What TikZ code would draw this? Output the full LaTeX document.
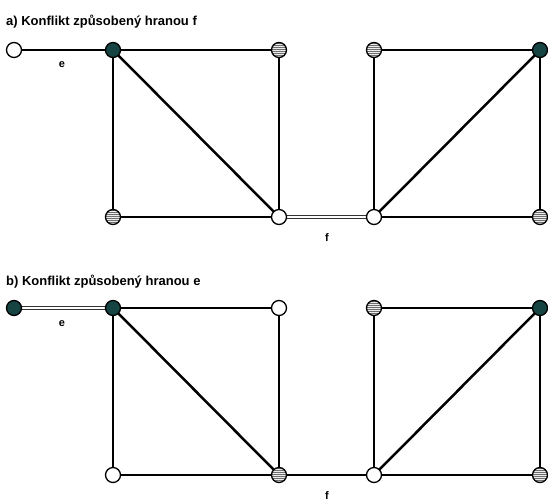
\documentclass[tikz,border=0pt]{standalone}
\usepackage{fontspec}
\setmainfont{Liberation Sans}
\definecolor{darkteal}{RGB}{22,68,66}
\definecolor{stripegray}{RGB}{110,110,110}
\tikzset{
  vtx/.style={circle, draw=black, line width=1.3pt, minimum size=15pt, inner sep=0pt},
  wnode/.style={vtx, fill=white},
  dnode/.style={vtx, fill=darkteal},
  snode/.style={vtx, fill=stripegray, path picture={
      \foreach \i in {-3,...,3}{
        \draw[white!85!gray, line width=0.8pt]
          ([yshift=\i*2pt]path picture bounding box.west) -- ([yshift=\i*2pt]path picture bounding box.east);}}},
  edge/.style={line width=2.5pt, black},
  dedge/.style={draw=black!80, line width=0.9pt, double=white, double distance=1.6pt},
  ttl/.style={anchor=west, font=\fontsize{13}{15}\selectfont\bfseries, inner sep=0pt},
  lbl/.style={font=\fontsize{11}{13}\selectfont\bfseries, inner sep=0pt}
}
\begin{document}
\begin{tikzpicture}[x=1pt,y=-1pt]
\useasboundingbox (0,0) rectangle (548,501);
% ---- (a)
\node[ttl] (ta) at (6,22) {a) Konflikt způsobený hranou f};
\coordinate (a1) at (14,50);
\coordinate (a2) at (113,50);
\coordinate (a3) at (279,50);
\coordinate (a4) at (113,217);
\coordinate (a5) at (279,217);
\coordinate (a6) at (374,217);
\coordinate (a7) at (374,50);
\coordinate (a8) at (540,50);
\coordinate (a9) at (540,217);
\draw[edge] (a1) -- (a2);
\draw[edge] (a2) -- (a3) -- (a5) -- (a4) -- cycle;
\draw[edge] (a2) -- (a5);
\draw[edge] (a7) -- (a8) -- (a9) -- (a6) -- cycle;
\draw[edge] (a6) -- (a8);
\draw[dedge] (a5) -- (a6);
\node[wnode] (na1) at (a1) {};
\node[dnode] (na2) at (a2) {};
\node[snode] (na3) at (a3) {};
\node[snode] (na4) at (a4) {};
\node[wnode] (na5) at (a5) {};
\node[wnode] (na6) at (a6) {};
\node[snode] (na7) at (a7) {};
\node[dnode] (na8) at (a8) {};
\node[snode] (na9) at (a9) {};
\node[lbl] (ea) at (62,65) {e};
\node[lbl] (fa) at (327,238) {f};
% ---- (b)
\node[ttl] (tb) at (6,282) {b) Konflikt způsobený hranou e};
\coordinate (b1) at (14,308);
\coordinate (b2) at (113,308);
\coordinate (b3) at (279,308);
\coordinate (b4) at (113,475);
\coordinate (b5) at (279,475);
\coordinate (b6) at (374,475);
\coordinate (b7) at (374,308);
\coordinate (b8) at (540,308);
\coordinate (b9) at (540,475);
\draw[edge] (b2) -- (b3) -- (b5) -- (b4) -- cycle;
\draw[edge] (b2) -- (b5);
\draw[edge] (b7) -- (b8) -- (b9) -- (b6) -- cycle;
\draw[edge] (b6) -- (b8);
\draw[edge] (b5) -- (b6);
\draw[dedge] (b1) -- (b2);
\node[dnode] (nb1) at (b1) {};
\node[dnode] (nb2) at (b2) {};
\node[wnode] (nb3) at (b3) {};
\node[wnode] (nb4) at (b4) {};
\node[snode] (nb5) at (b5) {};
\node[wnode] (nb6) at (b6) {};
\node[snode] (nb7) at (b7) {};
\node[dnode] (nb8) at (b8) {};
\node[snode] (nb9) at (b9) {};
\node[lbl] (eb) at (62,324) {e};
\node[lbl] (fb) at (327,496) {f};
\end{tikzpicture}
\end{document}
